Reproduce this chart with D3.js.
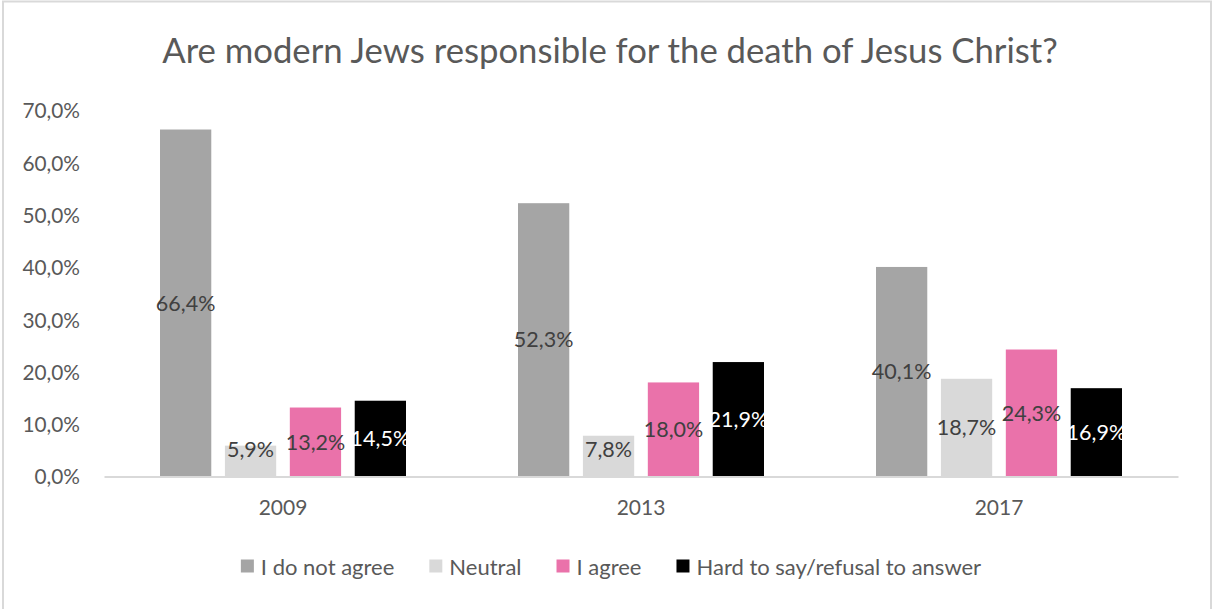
<!DOCTYPE html>
<html>
<head>
<meta charset="utf-8">
<script src="https://cdn.jsdelivr.net/npm/d3@7"></script>
<style>
  html, body { margin: 0; padding: 0; background: #ffffff; }
  svg { display: block; }
  text { font-family: "Lato", "Open Sans", sans-serif; }
</style>
</head>
<body>
<svg id="chart" width="1213" height="609"></svg>
<script>
// Survey years (categories on the x axis)
const years = ["2009", "2013", "2017"];

// Answer options (series)
const seriesNames = ["I do not agree", "Neutral", "I agree", "Hard to say/refusal to answer"];

// Share of respondents per answer, in percent, by year
const doNotAgree = [66.4, 52.3, 40.1];
const neutral    = [5.9, 7.8, 18.7];
const agree      = [13.2, 18.0, 24.3];
const hardToSay  = [14.5, 21.9, 16.9];

// Y axis ticks (percent)
const yTicks = [0, 10, 20, 30, 40, 50, 60, 70];

const title = "Are modern Jews responsible for the death of Jesus Christ?";

const seriesValues = [doNotAgree, neutral, agree, hardToSay];
const colors = ["#a5a5a5", "#d9d9d9", "#ea72aa", "#000000"];
const labelColors = ["#404040", "#404040", "#404040", "#ffffff"];

const svg = d3.select("#chart");

// Comma decimal separator, e.g. "66,4%"
const locale = d3.formatLocale({ decimal: ",", thousands: " ", grouping: [3], currency: ["", ""] });
const fmt1 = locale.format(".1f");
const pct = v => fmt1(v) + "%";

// Outer frame
svg.append("rect")
  .attr("x", 3).attr("y", 1.5)
  .attr("width", 1208).attr("height", 620)
  .attr("fill", "#ffffff")
  .attr("stroke", "#d9d9d9")
  .attr("stroke-width", 2);

// Title
svg.append("text")
  .attr("x", 610).attr("y", 63)
  .attr("text-anchor", "middle")
  .attr("fill", "#595959")
  .attr("font-size", 34.7)
  .text(title);

// Scales
const plotLeft = 104, plotRight = 1178;
const x0 = d3.scaleBand().domain(years).range([plotLeft, plotRight]).paddingInner(0).paddingOuter(0);
const groupPad = 56;
const x1 = d3.scaleBand().domain(d3.range(seriesNames.length))
  .range([groupPad, x0.bandwidth() - groupPad])
  .paddingInner(0.21).paddingOuter(0);
const y = d3.scaleLinear().domain([0, 70]).range([476.5, 110.7]);

// Y axis tick labels (no axis line, no gridlines)
const yAxis = d3.axisLeft(y).tickValues(yTicks).tickFormat(pct).tickSize(0).tickPadding(0);
const yG = svg.append("g").attr("transform", "translate(80,0)").call(yAxis);
yG.select(".domain").remove();
yG.selectAll("text")
  .attr("fill", "#595959")
  .attr("font-size", 20.8)
  .attr("font-family", "Lato, 'Open Sans', sans-serif")
  .attr("dy", "0.35em");

// Bars
const groups = svg.append("g").selectAll("g")
  .data(years)
  .join("g")
  .attr("transform", d => `translate(${x0(d)},0)`);

groups.selectAll("rect")
  .data((d, yi) => seriesValues.map((vals, si) => ({ si, v: vals[yi] })))
  .join("rect")
  .attr("x", d => x1(d.si))
  .attr("width", x1.bandwidth())
  .attr("y", d => y(d.v))
  .attr("height", d => y(0) - y(d.v))
  .attr("fill", d => colors[d.si]);

// Category axis baseline and labels
const xAxis = d3.axisBottom(x0).tickSize(0).tickPadding(0);
const xG = svg.append("g").attr("transform", `translate(0,${y(0)})`).call(xAxis);
xG.select(".domain").attr("stroke", "#d9d9d9").attr("stroke-width", 2);
xG.selectAll("text")
  .attr("fill", "#595959")
  .attr("font-size", 21)
  .attr("font-family", "Lato, 'Open Sans', sans-serif")
  .attr("y", 31)
  .attr("dy", "0.35em");

// Data labels, centred in each bar; the label box is kept above the baseline
const labelHalfBox = 27.5;
groups.selectAll("text.val")
  .data((d, yi) => seriesValues.map((vals, si) => ({ si, v: vals[yi] })))
  .join("text")
  .attr("class", "val")
  .attr("x", d => x1(d.si) + x1.bandwidth() / 2)
  .attr("y", d => Math.min((y(d.v) + y(0)) / 2, y(0) - labelHalfBox))
  .attr("dy", "0.35em")
  .attr("text-anchor", "middle")
  .attr("font-size", 21.5)
  .attr("fill", d => labelColors[d.si])
  .text(d => pct(d.v));

// Legend, centred under the plot
const legend = svg.append("g");
const sq = 13, sqGap = 7, itemGap = 35;
const items = legend.selectAll("g").data(seriesNames).join("g");
items.append("rect")
  .attr("width", sq).attr("height", sq)
  .attr("y", -sq / 2 - 1)
  .attr("fill", (d, i) => colors[i]);
items.append("text")
  .attr("x", sq + sqGap)
  .attr("dy", "0.35em")
  .attr("font-size", 22)
  .attr("fill", "#595959")
  .text(d => d);
let cursor = 0;
const offsets = [];
items.each(function () {
  offsets.push(cursor);
  const tw = d3.select(this).select("text").node().getComputedTextLength();
  cursor += sq + sqGap + tw + itemGap;
});
const totalW = cursor - itemGap;
items.attr("transform", (d, i) => `translate(${offsets[i]},0)`);
legend.attr("transform", `translate(${611 - totalW / 2},567)`);
</script>
</body>
</html>
